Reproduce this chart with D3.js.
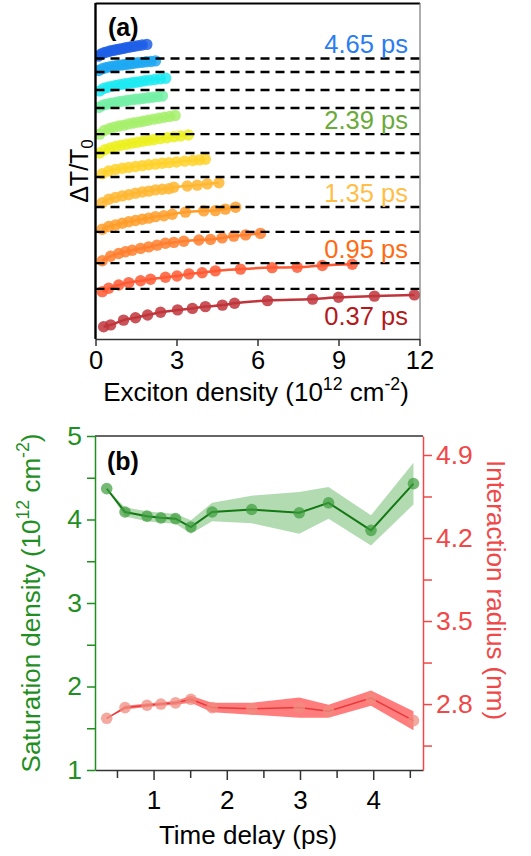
<!DOCTYPE html>
<html>
<head>
<meta charset="utf-8">
<title>Exciton saturation vs delay - D3.js</title>
<script src="https://d3js.org/d3.v7.min.js"></script>
<style>
  body { margin: 0; background: #fff; }
  svg { display: block; font-family: "Liberation Sans", Arial, sans-serif; }
  text { white-space: pre; }
</style>
</head>
<body>
<div id="chart"></div>
<script>
// ---------- panel (a): ΔT/T0 vs exciton density, one row per delay (top = 4.65 ps) ----------
const curveColors = ["#1f5fe6", "#1fa8f2", "#1eeaf2", "#74f0a6", "#a6f06c", "#ecf01e",
                     "#ffd22c", "#ffb732", "#ff9d2a", "#ff7f2e", "#ff5a34", "#c0353b"];
// vertical offset of each row (arb. units), the dashed lines sit at these levels
const curveOffsets = [93.5, 89, 83, 77, 68.3, 62, 54, 44, 35.7, 25.3, 16.7, 3];

const densities = [
  [0.10, 0.21, 0.32, 0.43, 0.54, 0.65, 0.76, 0.87, 0.98, 1.09, 1.20, 1.32, 1.44, 1.58, 1.73, 1.90],
  [0.12, 0.25, 0.38, 0.51, 0.64, 0.77, 0.90, 1.03, 1.16, 1.29, 1.42, 1.56, 1.72, 1.88, 2.05, 2.22],
  [0.15, 0.30, 0.45, 0.60, 0.75, 0.90, 1.05, 1.20, 1.35, 1.50, 1.65, 1.82, 2.00, 2.20, 2.40, 2.60],
  [0.12, 0.27, 0.42, 0.57, 0.72, 0.87, 1.02, 1.17, 1.32, 1.47, 1.62, 1.78, 1.95, 2.12, 2.30, 2.48],
  [0.15, 0.33, 0.51, 0.69, 0.87, 1.05, 1.23, 1.41, 1.59, 1.77, 1.95, 2.15, 2.35, 2.55, 2.75, 2.95],
  [0.15, 0.35, 0.55, 0.75, 0.95, 1.15, 1.35, 1.55, 1.75, 1.95, 2.15, 2.40, 2.65, 2.90, 3.15, 3.44],
  [0.25, 0.49, 0.74, 0.99, 1.23, 1.48, 1.73, 1.97, 2.22, 2.47, 2.72, 3.00, 3.30, 3.60, 3.85, 4.07],
  [0.25, 0.49, 0.74, 0.99, 1.23, 1.48, 1.73, 1.97, 2.22, 2.47, 2.72, 2.90, 3.40, 3.77, 4.14, 4.57],
  [0.25, 0.49, 0.74, 0.99, 1.23, 1.48, 1.73, 1.97, 2.22, 2.53, 2.84, 3.33, 4.01, 4.44, 4.81, 5.19],
  [0.25, 0.56, 0.86, 1.11, 1.36, 1.67, 1.97, 2.28, 2.59, 2.90, 3.27, 3.83, 4.26, 4.69, 5.12, 5.56, 6.11],
  [0.25, 0.49, 0.86, 1.23, 1.67, 2.04, 2.59, 3.02, 3.46, 3.95, 4.44, 5.37, 6.54, 7.47, 8.40, 9.51],
  [0.30, 0.56, 1.04, 1.48, 1.93, 2.41, 3.04, 3.59, 4.07, 4.70, 5.15, 6.37, 8.04, 9.00, 10.33, 11.81]
];
const signals = [
  [0.8, 1.5, 1.9, 2.2, 2.5, 2.7, 2.9, 3.1, 3.3, 3.5, 3.7, 3.9, 4.1, 4.3, 4.5, 4.7],
  [0.5, 1.1, 1.4, 1.7, 1.9, 2.1, 2.3, 2.4, 2.6, 2.7, 2.9, 3.1, 3.2, 3.4, 3.5, 3.7],
  [-0.3, 0.5, 0.9, 1.2, 1.5, 1.8, 2.0, 2.2, 2.4, 2.6, 2.8, 3.1, 3.3, 3.5, 3.7, 3.9],
  [0.2, 0.9, 1.3, 1.6, 1.8, 2.1, 2.3, 2.5, 2.7, 2.9, 3.0, 3.2, 3.4, 3.6, 3.8, 4.0],
  [0.0, 1.2, 1.8, 2.3, 2.7, 3.0, 3.4, 3.7, 4.0, 4.3, 4.6, 5.0, 5.3, 5.6, 5.9, 6.2],
  [0.0, 1.1, 1.7, 2.2, 2.6, 2.9, 3.3, 3.6, 3.9, 4.2, 4.4, 4.8, 5.1, 5.4, 5.7, 6.0],
  [1.1, 2.0, 2.5, 2.9, 3.2, 3.5, 3.8, 4.1, 4.3, 4.6, 4.8, 5.0, 5.3, 5.5, 5.7, 5.9],
  [1.4, 2.6, 3.2, 3.7, 4.1, 4.6, 5.0, 5.3, 5.7, 5.9, 6.1, 6.6, 7.0, 7.3, 7.7, 8.1],
  [0.9, 1.8, 2.3, 2.9, 3.4, 3.8, 4.2, 4.6, 5.1, 5.4, 5.9, 6.6, 7.0, 7.1, 7.6, 8.2],
  [0.8, 2.3, 3.2, 3.8, 4.3, 4.9, 5.4, 6.0, 6.6, 6.9, 7.3, 7.7, 7.9, 8.4, 9.0, 9.4, 9.9],
  [-0.9, 0.2, 1.3, 2.1, 2.7, 3.2, 3.9, 4.3, 5.0, 5.4, 6.0, 6.6, 7.1, 7.2, 7.8, 8.2],
  [1.1, 1.7, 3.3, 4.1, 5.0, 5.9, 6.7, 7.2, 7.8, 8.3, 8.9, 9.8, 10.3, 10.9, 11.3, 11.7]
];
const delayLabels = ["4.65 ps", "2.39 ps", "1.35 ps", "0.95 ps", "0.37 ps"];
const delayLabelCurve = [0, 4, 7, 9, 11];
const delayLabelColors = ["#2a7cf2", "#6aaa3a", "#ffbe48", "#ff6a12", "#b3191b"];
const densityTicks = [0, 3, 6, 9, 12];

// ---------- panel (b): saturation density and interaction radius vs delay ----------
const delays     = [0.36, 0.61, 0.91, 1.10, 1.30, 1.51, 1.80, 2.34, 2.99, 3.39, 3.97, 4.55];
const satDensity = [4.37, 4.09, 4.04, 4.02, 4.01, 3.91, 4.09, 4.12, 4.08, 4.20, 3.87, 4.43];
const satErr     = [0, 0.055, 0.06, 0.06, 0.06, 0.08, 0.11, 0.165, 0.25, 0.19, 0.18, 0.25];
const radius     = [2.68, 2.77, 2.79, 2.80, 2.81, 2.84, 2.77, 2.76, 2.77, 2.74, 2.85, 2.66];
const radiusErr  = [0, 0.015, 0.015, 0.015, 0.015, 0.03, 0.04, 0.05, 0.085, 0.055, 0.065, 0.08];
const delayTicks  = [1, 2, 3, 4];
const satTicks    = [1, 2, 3, 4, 5];
const radiusTicks = [2.8, 3.5, 4.2, 4.9];

const W = 531, H = 856;
const green = "#1f8f1f", red = "#f04848";
const FONT = "Liberation Sans, Arial, sans-serif";

const svg = d3.select("#chart").append("svg")
  .attr("width", W).attr("height", H);

// text with super/subscript parts
function richText(sel, parts, size) {
  let shift = 0;
  for (const [str, kind] of parts) {
    const target = kind === "sup" ? -0.42 * size : kind === "sub" ? 0.18 * size : 0;
    sel.append("tspan").text(str)
      .attr("dy", target - shift)
      .attr("font-size", kind ? size * 0.68 : size);
    shift = target;
  }
}

// ================= panel (a) =================
const A = { left: 95.5, right: 420, top: 3, bottom: 339 };
const xA = d3.scaleLinear().domain([0, 12]).range([A.left, 419.5]);
const yA = d3.scaleLinear().domain([0, 112]).range([A.bottom, A.top]);

svg.append("clipPath").attr("id", "clipA").append("rect")
  .attr("x", A.left).attr("y", A.top)
  .attr("width", A.right - A.left).attr("height", A.bottom - A.top);

const plotA = svg.append("g").attr("clip-path", "url(#clipA)");

const rows = curveOffsets.map((off, i) => ({
  color: curveColors[i],
  pts: densities[i].map((x, j) => ({ x, y: off + signals[i][j] }))
}));

const lineA = d3.line().x(d => xA(d.x)).y(d => yA(d.y)).curve(d3.curveMonotoneX);

plotA.selectAll(".fit").data(rows).enter().append("path")
  .attr("class", "fit")
  .attr("d", d => lineA(d.pts))
  .attr("fill", "none")
  .attr("stroke", d => d.color)
  .attr("stroke-width", 2.5);

rows.forEach(r => {
  plotA.selectAll(null).data(r.pts).enter().append("circle")
    .attr("cx", d => xA(d.x))
    .attr("cy", d => yA(d.y))
    .attr("r", 5.7)
    .attr("fill", r.color)
    .attr("fill-opacity", 0.85);
});

// dashed reference lines (all rows except the bottom one)
plotA.selectAll(".dash").data(curveOffsets.slice(0, 11)).enter().append("line")
  .attr("x1", A.left).attr("x2", A.right)
  .attr("y1", d => yA(d)).attr("y2", d => yA(d))
  .attr("stroke", "#000").attr("stroke-width", 2.3)
  .attr("stroke-dasharray", "9,6");

// frame
svg.append("line").attr("x1", A.left).attr("x2", A.right).attr("y1", A.top + 0.5).attr("y2", A.top + 0.5)
  .attr("stroke", "#000").attr("stroke-width", 2);
svg.append("line").attr("x1", A.right).attr("x2", A.right).attr("y1", A.top).attr("y2", A.bottom)
  .attr("stroke", "#777").attr("stroke-width", 1.2);
svg.append("line").attr("x1", A.left).attr("x2", A.left).attr("y1", A.top).attr("y2", A.bottom)
  .attr("stroke", "#000").attr("stroke-width", 2.4);

const axA = svg.append("g").attr("transform", `translate(0,${A.bottom})`)
  .call(d3.axisBottom(xA).tickValues(densityTicks).tickSize(7).tickSizeOuter(0).tickPadding(5));
axA.select(".domain").attr("stroke", "#333").attr("stroke-width", 1.5);
axA.selectAll(".tick line").attr("stroke", "#333").attr("stroke-width", 1.5);
axA.selectAll(".tick text").attr("font-size", 25.5).attr("fill", "#000").attr("font-family", FONT);

richText(svg.append("text").attr("x", 256).attr("y", 401).attr("text-anchor", "middle").attr("fill", "#000"),
  [["Exciton density (10"], ["12", "sup"], [" cm"], ["-2", "sup"], [")"]], 26);

richText(svg.append("text").attr("transform", "translate(88,171) rotate(-90)")
  .attr("text-anchor", "middle").attr("fill", "#000"),
  [["ΔT/T"], ["0", "sub"]], 25);

svg.append("text").attr("x", 108).attr("y", 36)
  .attr("font-size", 25).attr("font-weight", "bold").text("(a)");

svg.selectAll(".dlabel").data(delayLabels).enter().append("text")
  .attr("x", 408)
  .attr("y", (d, i) => yA(curveOffsets[delayLabelCurve[i]] + 1.8))
  .attr("text-anchor", "end")
  .attr("font-size", 25.5)
  .attr("fill", (d, i) => delayLabelColors[i])
  .text(d => d);

// ================= panel (b) =================
const B = { left: 95, right: 423, top: 436, bottom: 770 };
const xB = d3.scaleLinear().domain([0.2, 4.68]).range([B.left, B.right]);
const yL = d3.scaleLinear().domain([1, 5]).range([B.bottom, B.top]);
const yR = d3.scaleLinear().domain([2.244, 5.06]).range([B.bottom, B.top]);

const satPts = delays.map((t, i) => ({ t, v: satDensity[i], e: satErr[i] }));
const radPts = delays.map((t, i) => ({ t, v: radius[i], e: radiusErr[i] }));

// green: saturation density
svg.append("path").datum(satPts)
  .attr("d", d3.area().x(d => xB(d.t)).y0(d => yL(d.v - d.e)).y1(d => yL(d.v + d.e)))
  .attr("fill", "#2e9e2e").attr("fill-opacity", 0.37);
svg.append("path").datum(satPts)
  .attr("d", d3.line().x(d => xB(d.t)).y(d => yL(d.v)))
  .attr("fill", "none").attr("stroke", "#147814").attr("stroke-width", 2);
svg.selectAll(".satdot").data(satPts).enter().append("circle")
  .attr("cx", d => xB(d.t)).attr("cy", d => yL(d.v)).attr("r", 5.8)
  .attr("fill", "#3c9c3c").attr("fill-opacity", 0.7);

// red: interaction radius
svg.append("path").datum(radPts)
  .attr("d", d3.area().x(d => xB(d.t)).y0(d => yR(d.v - d.e)).y1(d => yR(d.v + d.e)))
  .attr("fill", "#ff5c5c").attr("fill-opacity", 0.8);
svg.append("path").datum(radPts)
  .attr("d", d3.line().x(d => xB(d.t)).y(d => yR(d.v)))
  .attr("fill", "none").attr("stroke", "#e8393a").attr("stroke-width", 1.5);
svg.selectAll(".raddot").data(radPts).enter().append("circle")
  .attr("cx", d => xB(d.t)).attr("cy", d => yR(d.v)).attr("r", 5.8)
  .attr("fill", "#f08c80").attr("fill-opacity", 0.75);

// top frame
svg.append("line").attr("x1", B.left).attr("x2", B.right).attr("y1", B.top).attr("y2", B.top)
  .attr("stroke", "#333").attr("stroke-width", 1.5);

// bottom axis
const axB = svg.append("g").attr("transform", `translate(0,${B.bottom})`)
  .call(d3.axisBottom(xB).tickValues(d3.range(0.5, 4.6, 0.5))
    .tickFormat(d => delayTicks.includes(d) ? d : "")
    .tickSize(10).tickSizeOuter(0).tickPadding(11));
axB.select(".domain").attr("stroke", "#333").attr("stroke-width", 1.5);
axB.selectAll(".tick line").attr("stroke", "#333").attr("stroke-width", 1.5)
  .attr("y2", d => delayTicks.includes(d) ? 10 : 8);
axB.selectAll(".tick text").attr("font-size", 26).attr("fill", "#000").attr("font-family", FONT);

// left axis (green)
const axL = svg.append("g").attr("transform", `translate(${B.left},0)`)
  .call(d3.axisLeft(yL).tickValues(d3.range(1, 5.01, 0.5))
    .tickFormat(d => satTicks.includes(d) ? d : "")
    .tickSize(8).tickSizeOuter(0).tickPadding(5));
axL.select(".domain").attr("stroke", green).attr("stroke-width", 1.5);
axL.selectAll(".tick line").attr("stroke", green).attr("stroke-width", 1.5);
axL.selectAll(".tick text").attr("font-size", 26.5).attr("fill", green).attr("font-family", FONT);

// right axis (red)
const axR = svg.append("g").attr("transform", `translate(${B.right},0)`)
  .call(d3.axisRight(yR).tickValues([2.45, 2.8, 3.15, 3.5, 3.85, 4.2, 4.55, 4.9])
    .tickFormat(d => radiusTicks.includes(d) ? d3.format(".1f")(d) : "")
    .tickSize(9).tickSizeOuter(0).tickPadding(4));
axR.select(".domain").attr("stroke", red).attr("stroke-width", 1.5);
axR.selectAll(".tick line").attr("stroke", red).attr("stroke-width", 1.5);
axR.selectAll(".tick text").attr("font-size", 26.5).attr("fill", red).attr("font-family", FONT);

svg.append("text").attr("x", 107).attr("y", 470)
  .attr("font-size", 25).attr("font-weight", "bold").text("(b)");

svg.append("text").attr("x", 248).attr("y", 844).attr("text-anchor", "middle")
  .attr("font-size", 26).attr("fill", "#000").text("Time delay (ps)");

richText(svg.append("text").attr("transform", "translate(40,603) rotate(-90)")
  .attr("text-anchor", "middle").attr("fill", green),
  [["Saturation density (10"], ["12", "sup"], [" cm"], ["-2", "sup"], [")"]], 26);

svg.append("text").attr("transform", "translate(487,590) rotate(90)")
  .attr("text-anchor", "middle").attr("font-size", 26).attr("fill", red)
  .text("Interaction radius (nm)");
</script>
</body>
</html>
